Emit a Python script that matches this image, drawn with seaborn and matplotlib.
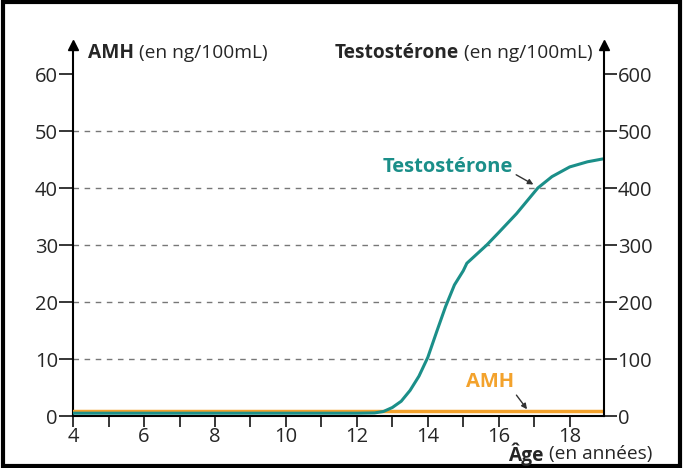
import matplotlib
matplotlib.use("Agg")
import matplotlib.pyplot as plt
import seaborn as sns
import pandas as pd

# values
age_testo = [4, 8, 12, 12.5, 12.75, 13, 13.25, 13.5, 13.75, 14, 14.25, 14.5, 14.75, 15, 15.1,
             15.66, 16, 16.5, 17.1, 17.5, 18, 18.5, 18.93]
testo = [5, 5, 5, 5.5, 8, 15, 26, 45, 70, 103, 148, 192, 230, 255, 268,
         300, 322, 355, 400, 420, 437, 446, 451]
age_amh = [4, 6, 8, 10, 12, 14, 16, 18, 18.93]
amh = [0.8, 0.8, 0.8, 0.8, 0.8, 0.8, 0.8, 0.8, 0.8]
amh_ticks = [0, 10, 20, 30, 40, 50, 60]
testo_ticks = [0, 100, 200, 300, 400, 500, 600]
age_major = [4, 6, 8, 10, 12, 14, 16, 18]
age_minor = [5, 7, 9, 11, 13, 15, 17]

teal = "#1b8f89"
orange = "#f3a22c"

sns.set_style("white")
plt.rcParams["font.family"] = ["Open Sans", "DejaVu Sans"]

df_t = pd.DataFrame({"age": age_testo, "testo": testo})
df_a = pd.DataFrame({"age": age_amh, "amh": amh})

fig = plt.figure(figsize=(6.83, 4.68), dpi=100)
ax = fig.add_axes([0.107, 0.111, 0.777, 0.793])
ax2 = ax.twinx()

ax.set_xlim(4, 18.96)
ax.set_ylim(0, 65.1)
ax2.set_ylim(0, 651)

# grid
for v in amh_ticks[1:-1]:
    ax.axhline(v, color="#777777", lw=1, ls=(0, (4, 4)), zorder=0)

sns.lineplot(data=df_t, x="age", y="testo", ax=ax2, color=teal, lw=2.2)
sns.lineplot(data=df_a, x="age", y="amh", ax=ax, color=orange, lw=2.5, zorder=5)

for a in (ax, ax2):
    for s in a.spines.values():
        s.set_visible(False)
ax.spines["left"].set_visible(True)
ax.spines["bottom"].set_visible(True)
ax2.spines["right"].set_visible(True)
for s in (ax.spines["left"], ax.spines["bottom"], ax2.spines["right"]):
    s.set_linewidth(1.5)
    s.set_color("black")

ax.set_yticks(amh_ticks)
ax2.set_yticks(testo_ticks)
ax.set_xticks(age_major)
ax.set_xticks(age_minor, minor=True)
ax.tick_params(axis="y", direction="out", length=10, width=1.3, labelsize=14.5, pad=1)
ax2.tick_params(axis="y", direction="out", length=9, width=1.3, labelsize=14.5, pad=1)
ax.tick_params(axis="x", which="both", direction="out", length=8, width=1.3, labelsize=14.5, pad=0, bottom=True)
ax.set_xlabel("")
ax.set_ylabel("")
ax2.set_ylabel("")

# arrow heads on the vertical axes
ax.plot([0], [1], marker="^", color="black", ms=7, transform=ax.transAxes, clip_on=False)
ax.plot([1], [1], marker="^", color="black", ms=7, transform=ax.transAxes, clip_on=False)

renderer = fig.canvas.get_renderer()


def label(x, y, bold, rest, ha):
    # bold word followed by normal text
    inv = fig.transFigure.inverted()
    if ha == "left":
        t = fig.text(x, y, bold, fontsize=13.8, fontweight="bold", va="center", ha="left")
        bb = t.get_window_extent(renderer)
        x2 = inv.transform((bb.x1, 0))[0]
        fig.text(x2, y, rest, fontsize=13.8, va="center", ha="left")
    else:
        t = fig.text(x, y, rest, fontsize=13.8, va="center", ha="right")
        bb = t.get_window_extent(renderer)
        x2 = inv.transform((bb.x0, 0))[0]
        fig.text(x2, y, bold, fontsize=13.8, fontweight="bold", va="center", ha="right")


label(0.129, 0.887, "AMH", " (en ng/100mL)", "left")
label(0.867, 0.887, "Testostérone", " (en ng/100mL)", "right")
label(0.955, 0.03, "Âge", " (en années)", "right")

ax2.annotate("Testostérone", xy=(17.01, 405), xytext=(14.56, 437), ha="center", va="center",
             color=teal, fontsize=14.5, fontweight="bold",
             arrowprops=dict(arrowstyle="-|>", color="#333333", lw=1, shrinkA=0, shrinkB=1,
                             mutation_scale=8, relpos=(1, 0.2)))
ax.annotate("AMH", xy=(16.82, 1.0), xytext=(15.75, 6.0), ha="center", va="center",
            color=orange, fontsize=14.5, fontweight="bold",
            arrowprops=dict(arrowstyle="-|>", color="#333333", lw=1, shrinkA=0, shrinkB=1,
                            mutation_scale=8, relpos=(1, 0)))

# outer frame
fig.patches.append(plt.Rectangle((0.004, 0.005), 0.992, 0.99, transform=fig.transFigure,
                                 fill=False, lw=3, edgecolor="black"))

fig.savefig("out.png", dpi=100)
